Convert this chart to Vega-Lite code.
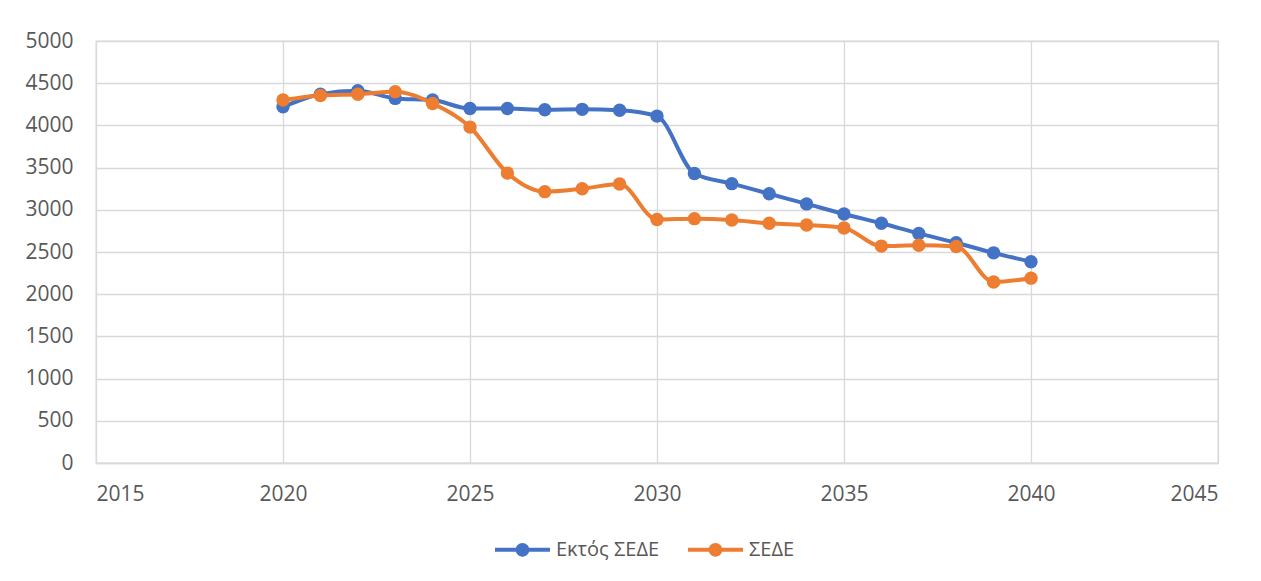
{
  "$schema": "https://vega.github.io/schema/vega-lite/v6.json",
  "width": 1122,
  "height": 422,
  "autosize": {"type": "none"},
  "padding": {"left": 96, "top": 41, "right": 43, "bottom": 118},
  "background": "white",
  "config": {
    "font": "Open Sans",
    "view": {"stroke": "#d9d9d9", "strokeWidth": 1.3},
    "axis": {"labelFont": "Open Sans", "labelFontSize": 21, "labelColor": "#595959", "gridColor": "#d9d9d9", "gridWidth": 1.3, "ticks": false, "title": null}
  },
  "data": {"values": [
    {"year": 2020, "series": "Εκτός ΣΕΔΕ", "value": 4220},
    {"year": 2021, "series": "Εκτός ΣΕΔΕ", "value": 4370},
    {"year": 2022, "series": "Εκτός ΣΕΔΕ", "value": 4410},
    {"year": 2023, "series": "Εκτός ΣΕΔΕ", "value": 4320},
    {"year": 2024, "series": "Εκτός ΣΕΔΕ", "value": 4300},
    {"year": 2025, "series": "Εκτός ΣΕΔΕ", "value": 4200},
    {"year": 2026, "series": "Εκτός ΣΕΔΕ", "value": 4200},
    {"year": 2027, "series": "Εκτός ΣΕΔΕ", "value": 4185},
    {"year": 2028, "series": "Εκτός ΣΕΔΕ", "value": 4190},
    {"year": 2029, "series": "Εκτός ΣΕΔΕ", "value": 4180},
    {"year": 2030, "series": "Εκτός ΣΕΔΕ", "value": 4110},
    {"year": 2031, "series": "Εκτός ΣΕΔΕ", "value": 3430},
    {"year": 2032, "series": "Εκτός ΣΕΔΕ", "value": 3310},
    {"year": 2033, "series": "Εκτός ΣΕΔΕ", "value": 3190},
    {"year": 2034, "series": "Εκτός ΣΕΔΕ", "value": 3070},
    {"year": 2035, "series": "Εκτός ΣΕΔΕ", "value": 2950},
    {"year": 2036, "series": "Εκτός ΣΕΔΕ", "value": 2840},
    {"year": 2037, "series": "Εκτός ΣΕΔΕ", "value": 2720},
    {"year": 2038, "series": "Εκτός ΣΕΔΕ", "value": 2610},
    {"year": 2039, "series": "Εκτός ΣΕΔΕ", "value": 2490},
    {"year": 2040, "series": "Εκτός ΣΕΔΕ", "value": 2385},
    {"year": 2020, "series": "ΣΕΔΕ", "value": 4300},
    {"year": 2021, "series": "ΣΕΔΕ", "value": 4355},
    {"year": 2022, "series": "ΣΕΔΕ", "value": 4370},
    {"year": 2023, "series": "ΣΕΔΕ", "value": 4400},
    {"year": 2024, "series": "ΣΕΔΕ", "value": 4260},
    {"year": 2025, "series": "ΣΕΔΕ", "value": 3980},
    {"year": 2026, "series": "ΣΕΔΕ", "value": 3435},
    {"year": 2027, "series": "ΣΕΔΕ", "value": 3215},
    {"year": 2028, "series": "ΣΕΔΕ", "value": 3250},
    {"year": 2029, "series": "ΣΕΔΕ", "value": 3305},
    {"year": 2030, "series": "ΣΕΔΕ", "value": 2885},
    {"year": 2031, "series": "ΣΕΔΕ", "value": 2895},
    {"year": 2032, "series": "ΣΕΔΕ", "value": 2880},
    {"year": 2033, "series": "ΣΕΔΕ", "value": 2840},
    {"year": 2034, "series": "ΣΕΔΕ", "value": 2820},
    {"year": 2035, "series": "ΣΕΔΕ", "value": 2785},
    {"year": 2036, "series": "ΣΕΔΕ", "value": 2570},
    {"year": 2037, "series": "ΣΕΔΕ", "value": 2580},
    {"year": 2038, "series": "ΣΕΔΕ", "value": 2565},
    {"year": 2039, "series": "ΣΕΔΕ", "value": 2145},
    {"year": 2040, "series": "ΣΕΔΕ", "value": 2190}
  ]},
  "encoding": {
    "x": {"field": "year", "type": "quantitative", "scale": {"domain": [2015, 2045], "nice": false, "zero": false},
      "axis": {"values": [2015, 2020, 2025, 2030, 2035, 2040, 2045], "format": "d", "labelPadding": 20, "domain": true, "domainColor": "#d9d9d9", "domainWidth": 1.3, "grid": true}},
    "y": {"field": "value", "type": "quantitative", "scale": {"domain": [0, 5000], "nice": false},
      "axis": {"values": [0, 500, 1000, 1500, 2000, 2500, 3000, 3500, 4000, 4500, 5000], "format": "d", "labelPadding": 23, "domain": false, "grid": true}},
    "color": {"field": "series", "type": "nominal", "scale": {"domain": ["Εκτός ΣΕΔΕ", "ΣΕΔΕ"], "range": ["#4472C4", "#ED7D31"]},
      "legend": {"orient": "none", "legendX": 399, "legendY": 481, "direction": "horizontal", "title": null, "labelFont": "Open Sans", "labelFontSize": 20, "labelColor": "#595959", "labelOffset": 6, "columnPadding": 28, "symbolSize": 3025, "symbolStrokeWidth": 0, "symbolOpacity": 1,
        "symbolType": "M-1,-0.075H1V0.075H-1Z M-0.25,0A0.25,0.25 0 1,1 0.25,0A0.25,0.25 0 1,1 -0.25,0Z"}}
  },
  "layer": [
    {"transform": [{"filter": "datum.series === 'Εκτός ΣΕΔΕ'"}],
     "mark": {"type": "line", "interpolate": "monotone", "strokeWidth": 4}},
    {"transform": [{"filter": "datum.series === 'Εκτός ΣΕΔΕ'"}],
     "mark": {"type": "point", "filled": true, "size": 180, "opacity": 1}},
    {"transform": [{"filter": "datum.series === 'ΣΕΔΕ'"}],
     "mark": {"type": "line", "interpolate": "monotone", "strokeWidth": 4}},
    {"transform": [{"filter": "datum.series === 'ΣΕΔΕ'"}],
     "mark": {"type": "point", "filled": true, "size": 180, "opacity": 1}}
  ]
}
